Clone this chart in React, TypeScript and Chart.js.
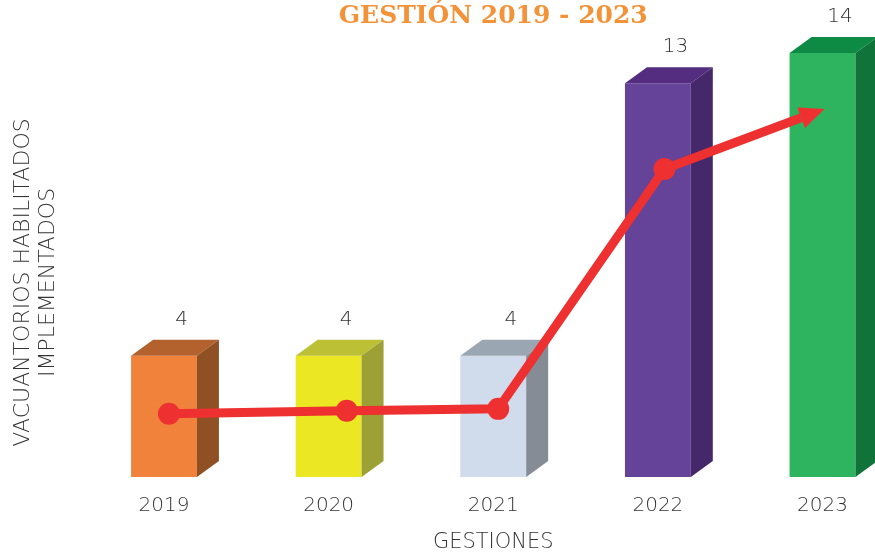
import { useEffect, useRef } from "react";
import { Chart, registerables } from "chart.js";

Chart.register(...registerables);

const categories = ["2019", "2020", "2021", "2022", "2023"];
const barValues = [4, 4, 4, 13, 14];
const frontColors = ["#F0823B", "#EBE722", "#D0DBEC", "#654399", "#2EB45F"];
const topColors = ["#B3612D", "#BCC035", "#9AA6B1", "#552D80", "#0D8B45"];
const sideColors = ["#8F5024", "#9DA135", "#858C96", "#45286A", "#0F733A"];
// trend line (x in category units, y in value units)
const trendX = [0.03, 1.11, 2.03, 3.04, 3.87];
const trendY = [2.09, 2.19, 2.25, 10.17, 11.86];
const trendRadius = [11, 11, 11, 11, 0];

const TITLE = "GESTIÓN 2019 - 2023";
const Y_TITLE = ["VACUANTORIOS HABILITADOS     ", "IMPLEMENTADOS     "];
const X_TITLE = "GESTIONES";

const DX = 22;
const DY = 16;
const RED = "#EE3030";
const TEXT = "#333333";
const SANS = "'DejaVu Sans'";

const bar3d = {
  id: "bar3d",
  afterDatasetDraw(chart: any, args: any) {
    const ctx = chart.ctx;
    if (args.index === 0) {
      const meta = args.meta;
      meta.data.forEach((el: any, i: number) => {
        const { x, y, width, base } = el.getProps(["x", "y", "width", "base"], true);
        const l = x - width / 2;
        const r = x + width / 2;
        ctx.save();
        ctx.fillStyle = topColors[i];
        ctx.beginPath();
        ctx.moveTo(l, y);
        ctx.lineTo(l + DX, y - DY);
        ctx.lineTo(r + DX, y - DY);
        ctx.lineTo(r, y);
        ctx.closePath();
        ctx.fill();
        ctx.fillStyle = sideColors[i];
        ctx.beginPath();
        ctx.moveTo(r, y);
        ctx.lineTo(r + DX, y - DY);
        ctx.lineTo(r + DX, base - DY);
        ctx.lineTo(r, base);
        ctx.closePath();
        ctx.fill();
        ctx.fillStyle = TEXT;
        ctx.font = "200 20px " + SANS;
        ctx.textAlign = "center";
        ctx.textBaseline = "middle";
        ctx.fillText(String(chart.data.datasets[0].data[i]), x + 17.5, y - 36);
        ctx.restore();
      });
    } else if (args.index === 1) {
      const pts = args.meta.data;
      const a = pts[pts.length - 2];
      const b = pts[pts.length - 1];
      const vx = b.x - a.x;
      const vy = b.y - a.y;
      const len = Math.hypot(vx, vy);
      const ux = vx / len;
      const uy = vy / len;
      const nx = -uy;
      const ny = ux;
      const L = 25;
      const W = 11;
      ctx.save();
      ctx.fillStyle = RED;
      ctx.beginPath();
      ctx.moveTo(b.x + ux * L, b.y + uy * L);
      ctx.lineTo(b.x + nx * W, b.y + ny * W);
      ctx.lineTo(b.x - nx * W, b.y - ny * W);
      ctx.closePath();
      ctx.fill();
      ctx.restore();
    }
  },
};

export default function App() {
  const ref = useRef<HTMLCanvasElement | null>(null);
  useEffect(() => {
    if (!ref.current) return;
    const chart = new Chart(ref.current, {
      type: "bar",
      data: {
        labels: categories,
        datasets: [
          {
            type: "bar",
            data: barValues,
            backgroundColor: frontColors,
            borderWidth: 0,
            grouped: false,
            categoryPercentage: 1,
            barPercentage: 0.4,
            clip: false,
            order: 2,
          } as any,
          {
            type: "line",
            xAxisID: "xl",
            data: trendX.map((x, i) => ({ x, y: trendY[i] })),
            borderColor: RED,
            backgroundColor: RED,
            borderWidth: 9,
            pointRadius: trendRadius,
            pointHoverRadius: trendRadius,
            pointBorderWidth: 0,
            pointBackgroundColor: RED,
            tension: 0,
            clip: false,
            order: 1,
          } as any,
        ],
      },
      options: {
        responsive: false,
        animation: false,
        events: [],
        layout: { padding: { left: 0, right: 52.5, top: 0, bottom: 0 } },
        plugins: {
          legend: { display: false },
          tooltip: { enabled: false },
          title: {
            display: true,
            text: TITLE,
            fullSize: false,
            color: "#F39237",
            font: { family: "'DejaVu Serif'", size: 25, weight: "bold", lineHeight: 1.2 },
            padding: { top: 1, bottom: 22 },
          },
        },
        scales: {
          x: {
            type: "category",
            offset: false,
            grid: { display: false, drawTicks: false, offset: false },
            border: { display: false },
            ticks: {
              color: TEXT,
              padding: 17,
              font: { family: SANS, size: 20, weight: "200", lineHeight: 1.2 },
            },
            title: {
              display: true,
              text: X_TITLE,
              color: TEXT,
              font: { family: SANS, size: 21, weight: "200", lineHeight: 1.2 },
              padding: { top: -5.2, bottom: 1 },
            },
          },
          xl: {
            type: "linear",
            display: false,
            offset: false,
            grid: { offset: false },
            min: 0,
            max: 4,
          },
          y: {
            type: "linear",
            min: 0,
            max: 14,
            grid: { display: false, drawTicks: false },
            border: { display: false },
            ticks: { display: false },
            title: {
              display: true,
              text: Y_TITLE,
              color: TEXT,
              font: { family: SANS, size: 22, weight: "200", lineHeight: 1.1 },
              padding: { top: 11.5, bottom: 104.1 },
            },
          },
        },
      },
      plugins: [bar3d],
    });
    return () => chart.destroy();
  }, []);
  return (
    <canvas
      ref={ref}
      width={875}
      height={556}
      style={{ position: "absolute", left: 0, top: 0, display: "block" }}
    />
  );
}
